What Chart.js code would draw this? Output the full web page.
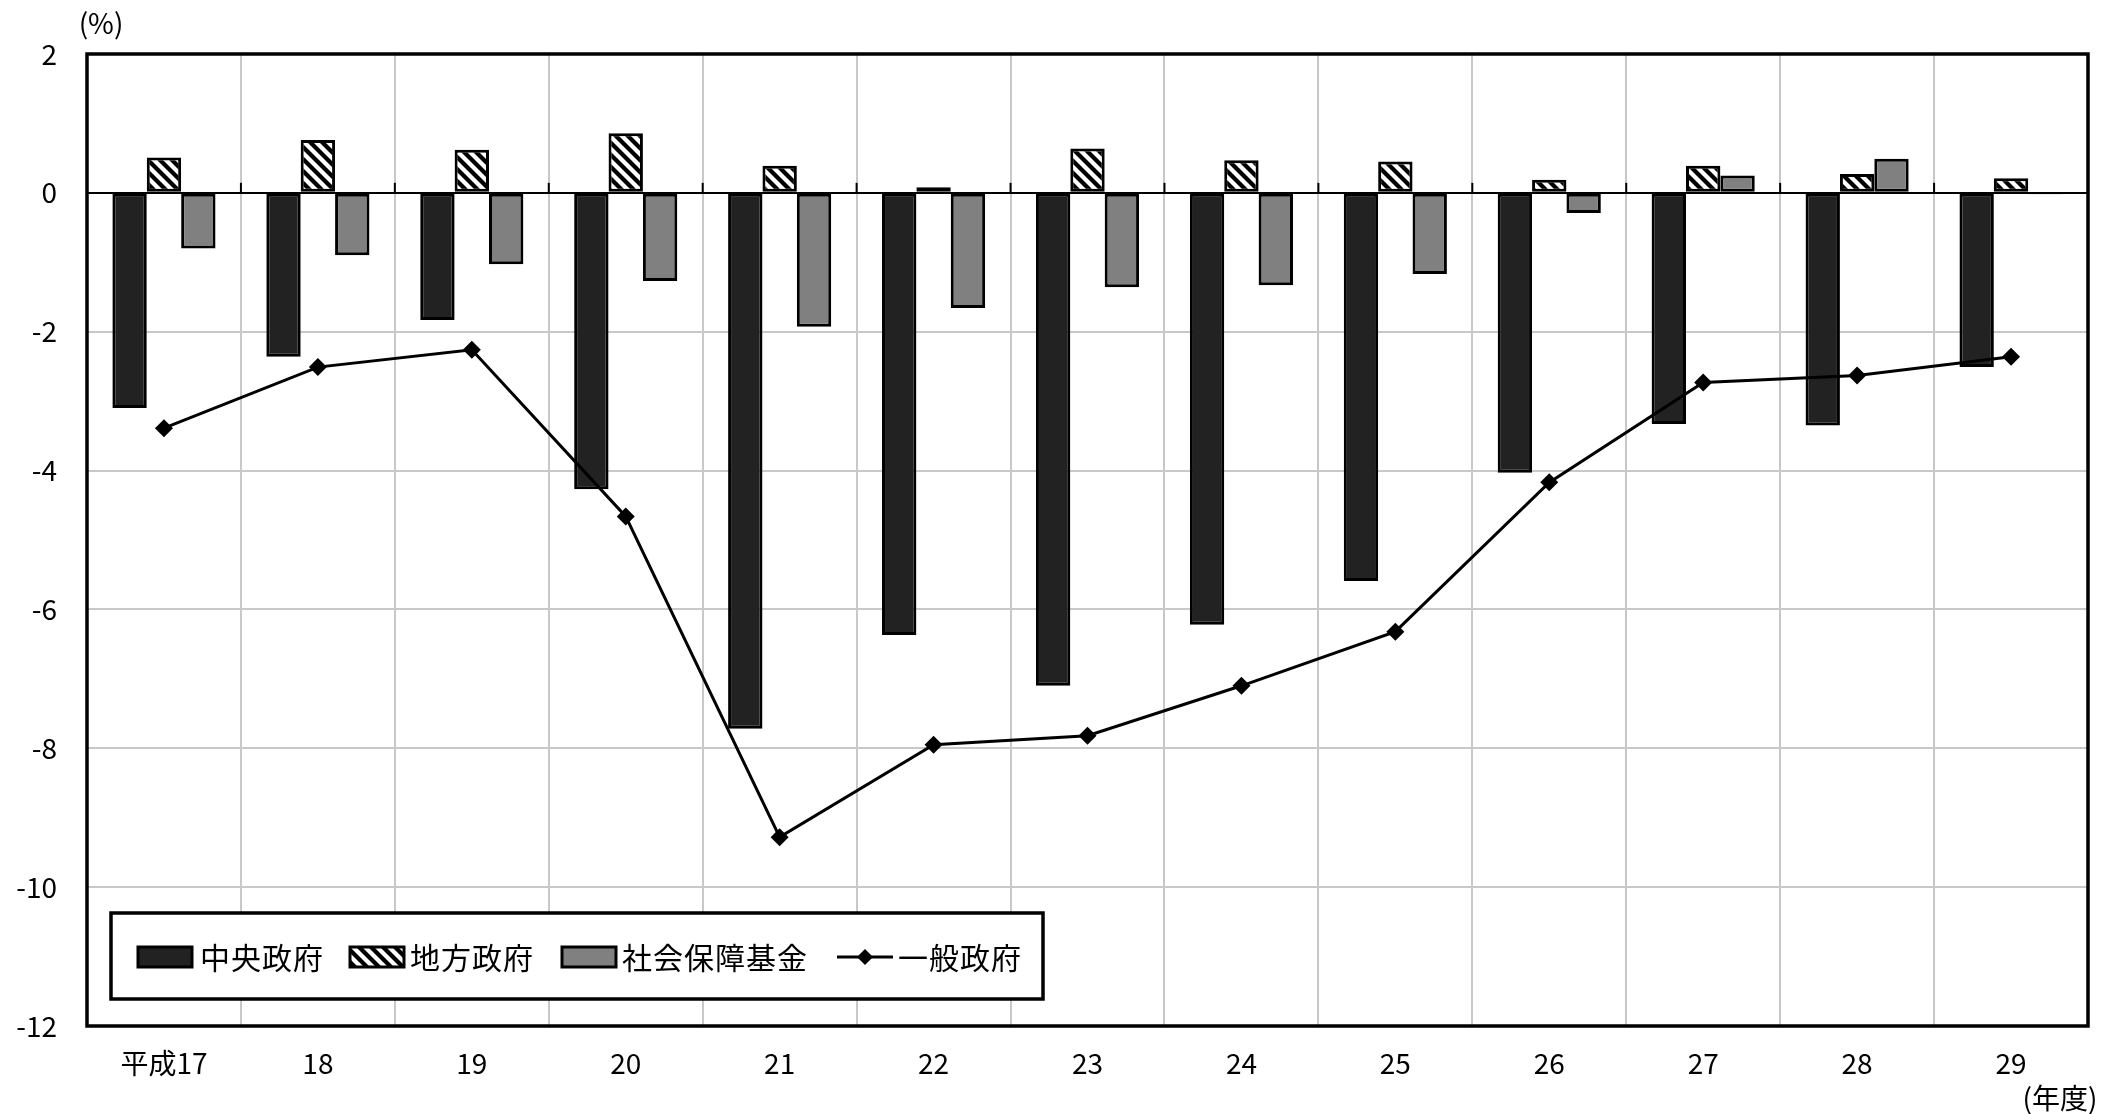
<!DOCTYPE html>
<html>
<head>
<meta charset="utf-8">
<script src="https://cdn.jsdelivr.net/npm/chart.js@4"></script>
<style>
html,body{margin:0;padding:0;background:#fff;}
canvas{display:block;}
</style>
</head>
<body>
<canvas id="c" width="2117" height="1114"></canvas>
<script>
const categories = ['平成17','18','19','20','21','22','23','24','25','26','27','28','29'];
const central = [-3.10,-2.36,-1.83,-4.27,-7.72,-6.37,-7.10,-6.22,-5.59,-4.03,-3.33,-3.35,-2.51];
const local   = [0.51,0.76,0.62,0.86,0.39,0.08,0.64,0.47,0.45,0.19,0.39,0.27,0.21];
const social  = [-0.80,-0.90,-1.03,-1.27,-1.93,-1.66,-1.36,-1.33,-1.17,-0.29,0.25,0.49,-0.02];
const general = [-3.39,-2.51,-2.26,-4.66,-9.28,-7.95,-7.82,-7.10,-6.32,-4.17,-2.73,-2.63,-2.36];
const seriesNames = ['中央政府','地方政府','社会保障基金','一般政府'];

const FONT = '"Noto Sans CJK JP", "Noto Sans", sans-serif';
const canvas = document.getElementById('c');
const ctx0 = canvas.getContext('2d');

function makeHatch(){
  const s = 12;
  const c = document.createElement('canvas');
  c.width = s; c.height = s;
  const g = c.getContext('2d');
  g.fillStyle = '#fff'; g.fillRect(0,0,s,s);
  g.strokeStyle = '#000'; g.lineWidth = 4.2;
  for (const o of [-s,0,s]) {
    g.beginPath(); g.moveTo(o-2,-2); g.lineTo(o+s+2,s+2); g.stroke();
  }
  return ctx0.createPattern(c,'repeat');
}
const hatch = makeHatch();

const decor = {
  id:'decor',
  afterDraw(chart){
    const {ctx, chartArea:a, scales} = chart;
    const y0 = scales.y.getPixelForValue(0);
    ctx.save();
    ctx.strokeStyle='#000'; ctx.lineWidth=2;
    const n = categories.length;
    const w = (a.right-a.left)/n;
    for(let i=1;i<n;i++){
      const x = a.left + w*i;
      ctx.beginPath(); ctx.moveTo(x,y0-10); ctx.lineTo(x,y0); ctx.stroke();
    }
    ctx.lineWidth=3.5;
    ctx.strokeRect(a.left,a.top,a.right-a.left,a.bottom-a.top);
    ctx.fillStyle='#000';
    ctx.font='28px '+FONT;
    ctx.textAlign='center'; ctx.textBaseline='middle';
    ctx.fillText('(%)',101,23);
    ctx.fillText('(年度)',2060,1098);
    // legend
    const L=111,T=913,R=1043,B=999;
    ctx.fillStyle='#fff'; ctx.fillRect(L,T,R-L,B-T);
    ctx.lineWidth=3.5; ctx.strokeStyle='#000';
    ctx.strokeRect(L,T,R-L,B-T);
    const cy=957;
    const items=[
      {type:'bar',fill:'#222222',sx:138,tx:200},
      {type:'bar',fill:hatch,sx:350,tx:410},
      {type:'bar',fill:'#808080',sx:562,tx:622},
      {type:'line',sx:837,tx:898}
    ];
    ctx.font='30px '+FONT;
    try{ ctx.letterSpacing='1px'; }catch(e){}
    ctx.textAlign='left'; ctx.textBaseline='middle';
    items.forEach((it,i)=>{
      if(it.type==='bar'){
        ctx.fillStyle=it.fill;
        ctx.fillRect(it.sx,cy-10,54,20);
        ctx.lineWidth=3; ctx.strokeStyle='#000';
        ctx.strokeRect(it.sx,cy-10,54,20);
      } else {
        ctx.strokeStyle='#000'; ctx.lineWidth=3;
        ctx.beginPath(); ctx.moveTo(it.sx,cy); ctx.lineTo(it.sx+56,cy); ctx.stroke();
        ctx.fillStyle='#000';
        const mx=it.sx+28, r=8;
        ctx.beginPath(); ctx.moveTo(mx,cy-r); ctx.lineTo(mx+r,cy); ctx.lineTo(mx,cy+r); ctx.lineTo(mx-r,cy); ctx.closePath(); ctx.fill();
      }
      ctx.fillStyle='#000';
      ctx.fillText(seriesNames[i],it.tx,cy+1);
    });
    ctx.restore();
  }
};

new Chart(canvas,{
  data:{
    labels:categories,
    datasets:[
      {type:'line',label:seriesNames[3],data:general,borderColor:'#000',backgroundColor:'#000',borderWidth:3,
       pointStyle:'rectRot',pointRadius:9,pointBorderWidth:0,tension:0,order:0},
      {type:'bar',label:seriesNames[0],data:central,backgroundColor:'#222222',borderColor:'#000',borderWidth:3,borderSkipped:false,order:1},
      {type:'bar',label:seriesNames[1],data:local,backgroundColor:hatch,borderColor:'#000',borderWidth:3,borderSkipped:false,order:1},
      {type:'bar',label:seriesNames[2],data:social,backgroundColor:'#808080',borderColor:'#000',borderWidth:3,borderSkipped:false,order:1}
    ]
  },
  options:{
    responsive:false,
    animation:false,
    devicePixelRatio:1,
    layout:{padding:{top:54,right:29,left:0,bottom:0}},
    datasets:{bar:{categoryPercentage:0.67,barPercentage:1.0}},
    plugins:{legend:{display:false},tooltip:{enabled:false}},
    scales:{
      x:{
        offset:true,
        grid:{offset:true,color:'#c8c8c8',lineWidth:2,drawTicks:false},
        border:{display:false},
        ticks:{color:'#000',font:{size:28,family:FONT},padding:21,maxRotation:0,autoSkip:false},
        afterFit(s){s.height=88;}
      },
      y:{
        min:-12,max:2,
        grid:{color:(c)=>c.tick && c.tick.value===0 ? '#000' : '#c8c8c8',lineWidth:2,drawTicks:false},
        border:{display:false},
        ticks:{stepSize:2,color:'#000',font:{size:28,family:FONT},padding:30},
        afterFit(s){s.width=87;}
      }
    }
  },
  plugins:[decor]
});
</script>
</body>
</html>
